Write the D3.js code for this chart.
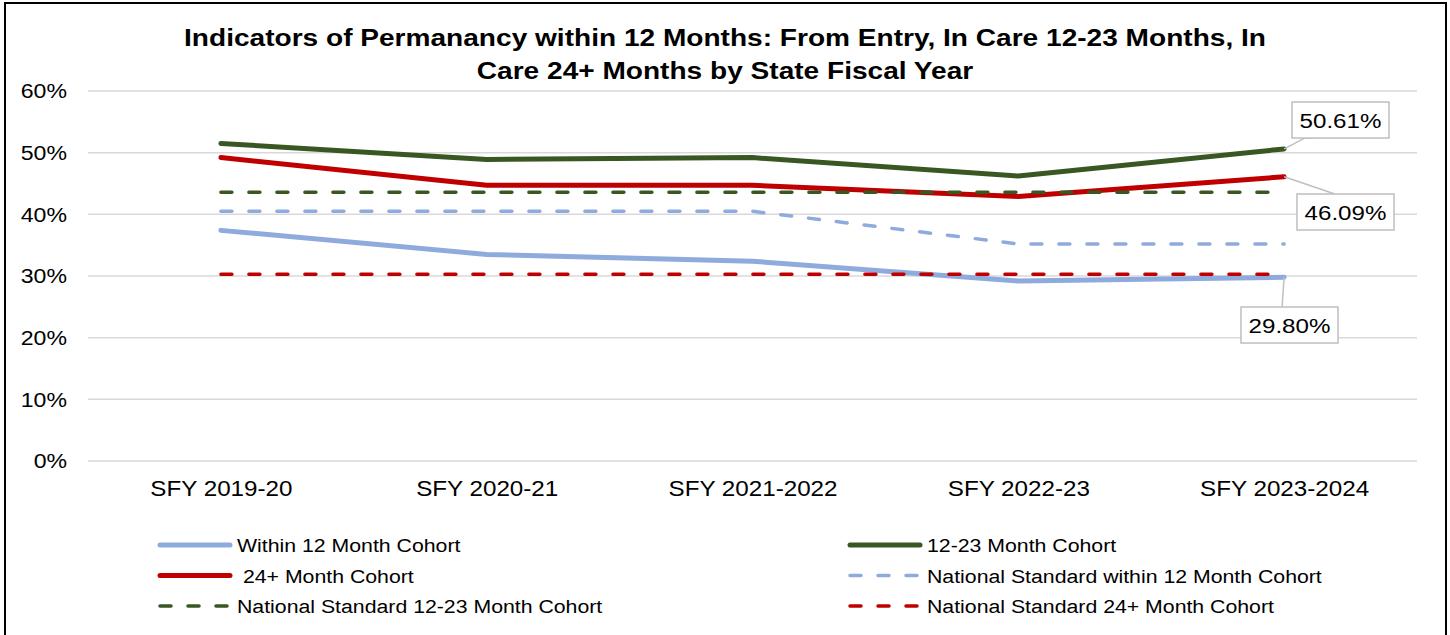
<!DOCTYPE html>
<html>
<head>
<meta charset="utf-8">
<script src="https://cdnjs.cloudflare.com/ajax/libs/d3/7.8.5/d3.min.js"></script>
<style>
  body { margin: 0; background: #fff; }
  svg { font-family: 'Liberation Sans', Arial, sans-serif; }
</style>
</head>
<body>
<script>
const W = 1450, H = 635

const years = ['SFY 2019-20', 'SFY 2020-21', 'SFY 2021-2022', 'SFY 2022-23', 'SFY 2023-2024']
const yTicks = [0, 10, 20, 30, 40, 50, 60]

const within12 = [37.4, 33.5, 32.4, 29.2, 29.80]
const cohort1223 = [51.5, 48.9, 49.2, 46.2, 50.61]
const cohort24 = [49.2, 44.7, 44.7, 42.9, 46.09]
const natWithin12 = [40.5, 40.5, 40.5, 35.2, 35.2]
const nat1223 = [43.6, 43.6, 43.6, 43.6, 43.6]
const nat24 = [30.3, 30.3, 30.3, 30.3, 30.3]

const series = [
  { name: 'Within 12 Month Cohort', values: within12, color: '#8FAADC', dash: false },
  { name: '12-23 Month Cohort', values: cohort1223, color: '#385723', dash: false },
  { name: ' 24+ Month Cohort', values: cohort24, color: '#C00000', dash: false },
  { name: 'National Standard within 12 Month Cohort', values: natWithin12, color: '#8FAADC', dash: true },
  { name: 'National Standard 12-23 Month Cohort', values: nat1223, color: '#385723', dash: true },
  { name: 'National Standard 24+ Month Cohort', values: nat24, color: '#C00000', dash: true },
]

// the reference text is a bit wider than plain Arial, so stretch it horizontally
function wideText(parent, tx, ty, str, size, k, anchor) {
  return parent.append('text')
    .attr('transform', `translate(${tx},${ty}) scale(${k},1)`)
    .attr('font-size', size + 'px')
    .attr('text-anchor', anchor || 'start')
    .attr('fill', '#000')
    .attr('xml:space', 'preserve')
    .style('white-space', 'pre')
    .text(str)
}

const svg = d3.select('body').append('svg')
  .attr('width', W)
  .attr('height', H)

// outer frame
svg.append('rect')
  .attr('x', 5).attr('y', 3)
  .attr('width', 1441).attr('height', 640)
  .attr('fill', 'none')
  .attr('stroke', '#000')
  .attr('stroke-width', 2)

const x = d3.scalePoint().domain(years).range([88, 1417]).padding(0.5)
const y = d3.scaleLinear().domain([0, 60]).range([461, 91])

// gridlines
svg.append('g')
  .selectAll('line')
  .data(yTicks)
  .enter()
  .append('line')
  .attr('x1', 88).attr('x2', 1417)
  .attr('y1', d => y(d)).attr('y2', d => y(d))
  .attr('stroke', '#D9D9D9')
  .attr('stroke-width', 1.5)

// y axis labels
svg.append('g')
  .attr('transform', 'translate(67,0)')
  .call(d3.axisLeft(y).tickValues(yTicks).tickFormat(d => d + '%').tickSize(0).tickPadding(0))
  .call(g => g.select('.domain').remove())
  .selectAll('text')
  .attr('font-size', '21px')
  .attr('fill', '#000')
  .attr('font-family', 'Liberation Sans, Arial, sans-serif')
  .attr('transform', 'scale(1.1,1)')

// x axis labels
svg.append('g')
  .attr('transform', 'translate(0,480)')
  .call(d3.axisBottom(x).tickSize(0).tickPadding(0))
  .call(g => g.select('.domain').remove())
  .selectAll('text')
  .attr('font-size', '22px')
  .attr('fill', '#000')
  .attr('font-family', 'Liberation Sans, Arial, sans-serif')
  .attr('transform', 'scale(1.1,1)')

const line = d3.line()
  .x((d, i) => x(years[i]))
  .y(d => y(d))

// solid lines first, dashed on top
const drawOrder = series.filter(s => !s.dash).concat(series.filter(s => s.dash))
svg.append('g')
  .selectAll('path')
  .data(drawOrder)
  .enter()
  .append('path')
  .attr('d', d => line(d.values))
  .attr('fill', 'none')
  .attr('stroke', d => d.color)
  .attr('stroke-width', d => d.dash ? 3.5 : 5)
  .attr('stroke-linecap', 'round')
  .attr('stroke-linejoin', 'round')
  .attr('stroke-dasharray', d => d.dash ? '11,17' : null)

// data labels on last points
const last = years.length - 1
const labels = [
  { s: series[1], bx: 1292, by: 102, leader: [[0, 0], [21, -11], [47, -12]] },
  { s: series[2], bx: 1297, by: 194, leader: [[0, 0], [50, 17]] },
  { s: series[0], bx: 1241, by: 307, leader: [[0, 0], [-2, 30]] },
]
labels.forEach(l => {
  const px = x(years[last]), py = y(l.s.values[last])
  svg.append('polyline')
    .attr('points', l.leader.map(p => (px + p[0]) + ',' + (py + p[1])).join(' '))
    .attr('fill', 'none')
    .attr('stroke', '#BFBFBF')
    .attr('stroke-width', 1.5)
  svg.append('rect')
    .attr('x', l.bx).attr('y', l.by)
    .attr('width', 97).attr('height', 36)
    .attr('fill', '#fff')
    .attr('stroke', '#BFBFBF')
    .attr('stroke-width', 1.5)
  wideText(svg, l.bx + 48.5, l.by + 26, l.s.values[last].toFixed(2) + '%', 21, 1.15, 'middle')
})

// title
wideText(svg, 725, 46, 'Indicators of Permanancy within 12 Months: From Entry, In Care 12-23 Months, In', 24, 1.17, 'middle')
  .attr('font-weight', 'bold')
wideText(svg, 725, 79, 'Care 24+ Months by State Fiscal Year', 24, 1.17, 'middle')
  .attr('font-weight', 'bold')

// legend
const legend = svg.append('g').attr('id', 'legend')
series.forEach((s, i) => {
  const col = i % 2, row = Math.floor(i / 2)
  const lx = col === 0 ? 160 : 850
  const ly = 545 + row * 30.5
  legend.append('line')
    .attr('x1', lx).attr('x2', lx + 70)
    .attr('y1', ly).attr('y2', ly)
    .attr('stroke', s.color)
    .attr('stroke-width', s.dash ? 3.5 : 5)
    .attr('stroke-linecap', 'round')
    .attr('stroke-dasharray', s.dash ? '11,17' : null)
  wideText(legend, lx + 77, ly + 7, s.name, 19, 1.12)
})
</script>
</body>
</html>
